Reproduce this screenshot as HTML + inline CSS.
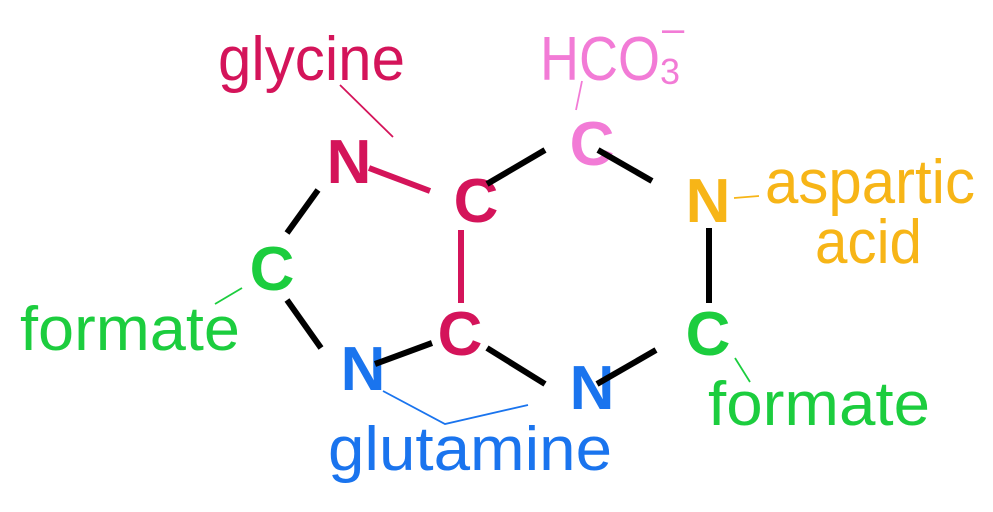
<!DOCTYPE html>
<html><head><meta charset="utf-8"><style>html,body{margin:0;padding:0;background:#fff}svg{display:block}</style></head><body>
<svg width="993" height="512" viewBox="0 0 993 512" xmlns="http://www.w3.org/2000/svg">
<g font-family="Liberation Sans, sans-serif" font-size="62">
<text x="218" y="80" fill="#d4145a" textLength="187" lengthAdjust="spacingAndGlyphs">glycine</text>
<text x="540" y="80" fill="#f27bd6" textLength="120" lengthAdjust="spacingAndGlyphs">HCO</text>
<text x="660" y="84" fill="#f27bd6" font-size="36">3</text>
<text x="662" y="42" fill="#f27bd6" font-size="40">–</text>
<text x="765" y="203" fill="#f7b517" textLength="210" lengthAdjust="spacingAndGlyphs">aspartic</text>
<text x="815" y="263" fill="#f7b517" textLength="107" lengthAdjust="spacingAndGlyphs">acid</text>
<text x="20" y="350" fill="#1ccd3e" textLength="220" lengthAdjust="spacingAndGlyphs">formate</text>
<text x="708" y="425" fill="#1ccd3e" textLength="222" lengthAdjust="spacingAndGlyphs">formate</text>
<text x="328" y="470" fill="#1a74ee" textLength="284" lengthAdjust="spacingAndGlyphs">glutamine</text>
</g>
<g font-family="Liberation Sans, sans-serif" font-size="62" font-weight="bold" text-anchor="middle">
<text x="349" y="183" fill="#d4145a">N</text>
<text x="476" y="222" fill="#d4145a">C</text>
<text x="592" y="165" fill="#f27bd6">C</text>
<text x="708" y="222" fill="#f7b517">N</text>
<text x="272" y="290" fill="#1ccd3e">C</text>
<text x="460" y="355" fill="#d4145a">C</text>
<text x="363" y="390" fill="#1a74ee">N</text>
<text x="592" y="409" fill="#1a74ee">N</text>
<text x="708" y="355" fill="#1ccd3e">C</text>
</g>
<g stroke="#000" stroke-width="6" stroke-linecap="butt">
<line x1="318" y1="190" x2="287" y2="233"/>
<line x1="487" y1="184" x2="545" y2="150"/>
<line x1="598" y1="150" x2="652" y2="181"/>
<line x1="709" y1="228" x2="709" y2="303"/>
<line x1="287" y1="300" x2="321" y2="348"/>
<line x1="375" y1="364" x2="432" y2="343"/>
<line x1="487" y1="348" x2="545" y2="384"/>
<line x1="597" y1="384" x2="656" y2="350"/>
</g>
<g stroke="#d4145a" stroke-width="6">
<line x1="369" y1="168" x2="430" y2="191"/>
<line x1="461" y1="230" x2="461" y2="303"/>
</g>
<g fill="none" stroke-width="1.8">
<line x1="340" y1="85" x2="393" y2="137" stroke="#d4145a"/>
<line x1="582" y1="81" x2="576" y2="110" stroke="#f27bd6"/>
<line x1="734" y1="198" x2="759" y2="196" stroke="#f7b517"/>
<line x1="215" y1="304" x2="242" y2="288" stroke="#1ccd3e"/>
<line x1="735" y1="358" x2="750" y2="382" stroke="#1ccd3e"/>
<polyline points="383,391 445,424 528,405" stroke="#1a74ee"/>
</g>
</svg>
</body></html>
